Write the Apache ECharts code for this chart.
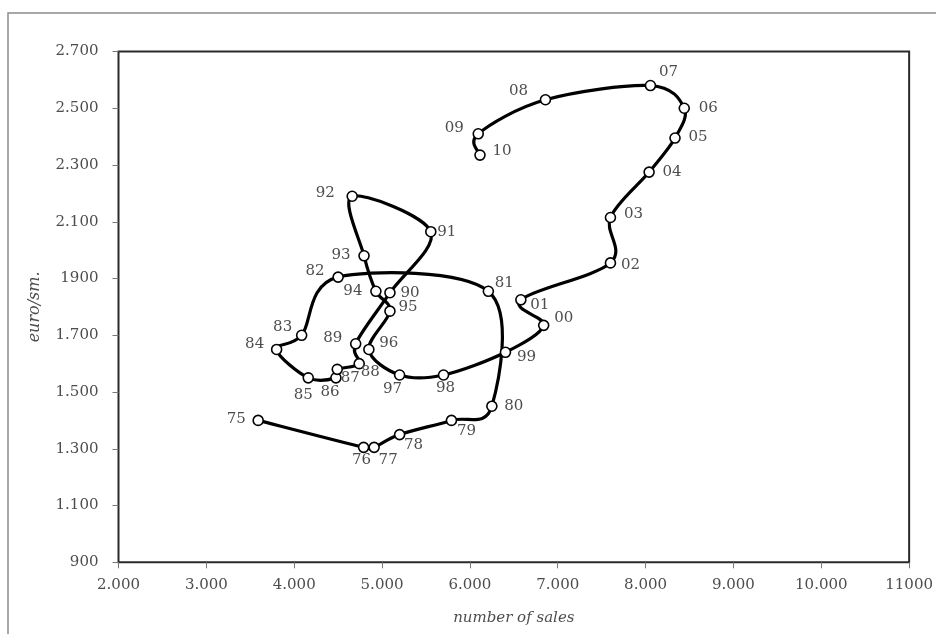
<!DOCTYPE html>
<html>
<head>
<meta charset="utf-8">
<script src="https://cdn.jsdelivr.net/npm/echarts@6/dist/echarts.min.js"></script>
<style>
  html, body { margin: 0; padding: 0; background: #fff; }
  #chart { width: 936px; height: 634px; }
</style>
</head>
<body>
<div id="chart"></div>
<script>
// Year labels (1975 - 2010)
const years = ['75','76','77','78','79','80','81','82','83','84','85','86','87','88','89',
  '90','91','92','93','94','95','96','97','98','99','00','01','02','03','04','05','06','07','08','09','10'];
// Number of sales per year
const sales = [3590,4790,4910,5200,5790,6250,6210,4500,4085,3800,4160,4475,4490,4740,4700,
  5090,5555,4660,4795,4930,5090,4850,5200,5700,6405,6840,6580,7600,7600,8040,8335,8440,8055,6860,6095,6115];
// Price in euro per square metre
const price = [1400,1305,1305,1350,1400,1450,1855,1905,1700,1650,1550,1550,1580,1600,1670,
  1850,2065,2190,1980,1855,1785,1650,1560,1560,1640,1735,1825,1955,2115,2275,2395,2500,2580,2530,2410,2335];

// Axis tick values and their printed labels
const xTicks = [2000,3000,4000,5000,6000,7000,8000,9000,10000,11000];
const xTickLabels = ['2.000','3.000','4.000','5.000','6.000','7.000','8.000','9.000','10.000','11000'];
const yTicks = [900,1100,1300,1500,1700,1900,2100,2300,2500,2700];
const yTickLabels = ['900','1.100','1.300','1.500','1.700','1900','2.100','2.300','2.500','2.700'];

// Pixel offsets of each year label relative to its marker
const labelOffsets = [
  [-22,-1],[-2,13],[14,13],[14,11],[15,11],[22,0],[16,-8],[-23,-6],[-19,-8],[-22,-5],
  [-5,17],[-6,14],[13,9],[11,8],[-23,-6],[20,0],[16,0],[-27,-3],[-23,-1],[-23,0],
  [18,-4],[20,-6],[-7,14],[2,13],[21,5],[20,-7],[19,5],[20,2],[23,-3],[23,0],
  [23,-1],[24,0],[18,-13],[-27,-9],[-24,-6],[22,-4]
];

const FONT = 'DejaVu Serif';
const TEXT = '#4d4d4d';
const n = years.length;

const pairs = years.map((y, i) => [sales[i], price[i]]);

const points = years.map((y, i) => ({
  name: y,
  value: pairs[i],
  label: { offset: labelOffsets[i] }
}));

// Smoothed connector: each segment is a cubic Bezier whose control points
// follow the Catmull-Rom rule on the projected neighbour points.
function renderSegment(params, api) {
  const i = params.dataIndex;
  if (i >= n - 1) return null;
  const at = k => {
    const j = Math.max(0, Math.min(n - 1, k));
    return api.coord(pairs[j]);
  };
  const p0 = at(i - 1), p1 = at(i), p2 = at(i + 1), p3 = at(i + 2);
  return {
    type: 'bezierCurve',
    shape: {
      x1: p1[0], y1: p1[1], x2: p2[0], y2: p2[1],
      cpx1: p1[0] + (p2[0] - p0[0]) / 6, cpy1: p1[1] + (p2[1] - p0[1]) / 6,
      cpx2: p2[0] - (p3[0] - p1[0]) / 6, cpy2: p2[1] - (p3[1] - p1[1]) / 6
    },
    style: { stroke: '#000', lineWidth: 3.2, fill: null, lineCap: 'round', lineJoin: 'round' },
    silent: true
  };
}

const chart = echarts.init(document.getElementById('chart'), null, { renderer: 'canvas' });

chart.setOption({
  animation: false,
  backgroundColor: '#fff',
  graphic: [{
    type: 'rect',
    shape: { x: 8, y: 13, width: 1200, height: 900 },
    style: { fill: 'none', stroke: '#8c8c8c', lineWidth: 1.5 },
    silent: true
  }],
  grid: {
    left: 118.5, right: 26.7, top: 51.5, bottom: 71.7,
    show: true, borderColor: '#2a2a2a', borderWidth: 2, backgroundColor: 'transparent'
  },
  xAxis: {
    type: 'value', min: 2000, max: 11000, interval: 1000,
    name: 'number of sales', nameLocation: 'middle', nameGap: 48,
    nameTextStyle: { fontFamily: FONT, fontStyle: 'italic', fontSize: 15, color: TEXT },
    axisLine: { show: false },
    axisTick: { show: true, inside: false, length: 6, lineStyle: { color: '#777', width: 1 } },
    axisLabel: {
      margin: 15, fontFamily: FONT, fontSize: 15, color: TEXT,
      formatter: v => xTickLabels[xTicks.indexOf(v)] ?? ''
    },
    splitLine: { show: false }
  },
  yAxis: {
    type: 'value', min: 900, max: 2700,
    name: 'euro/sm.', nameLocation: 'middle', nameGap: 76, nameRotate: 90,
    nameTextStyle: { fontFamily: FONT, fontStyle: 'italic', fontSize: 16, color: TEXT },
    axisLine: { show: false },
    axisTick: { show: true, inside: false, length: 6, lineStyle: { color: '#777', width: 1 }, customValues: yTicks },
    axisLabel: {
      margin: 20, fontFamily: FONT, fontSize: 15, color: TEXT, customValues: yTicks,
      formatter: v => yTickLabels[yTicks.indexOf(v)] ?? ''
    },
    splitLine: { show: false }
  },
  series: [{
    type: 'custom',
    data: pairs,
    renderItem: renderSegment,
    encode: { x: 0, y: 1 },
    z: 2
  }, {
    type: 'scatter',
    data: points,
    symbol: 'circle',
    symbolSize: 10,
    itemStyle: { color: '#fff', borderColor: '#000', borderWidth: 1.6, opacity: 1 },
    label: {
      show: true, position: 'inside',
      fontFamily: FONT, fontSize: 15, color: TEXT,
      formatter: p => p.name
    },
    emphasis: { disabled: true },
    z: 3
  }]
});
</script>
</body>
</html>
